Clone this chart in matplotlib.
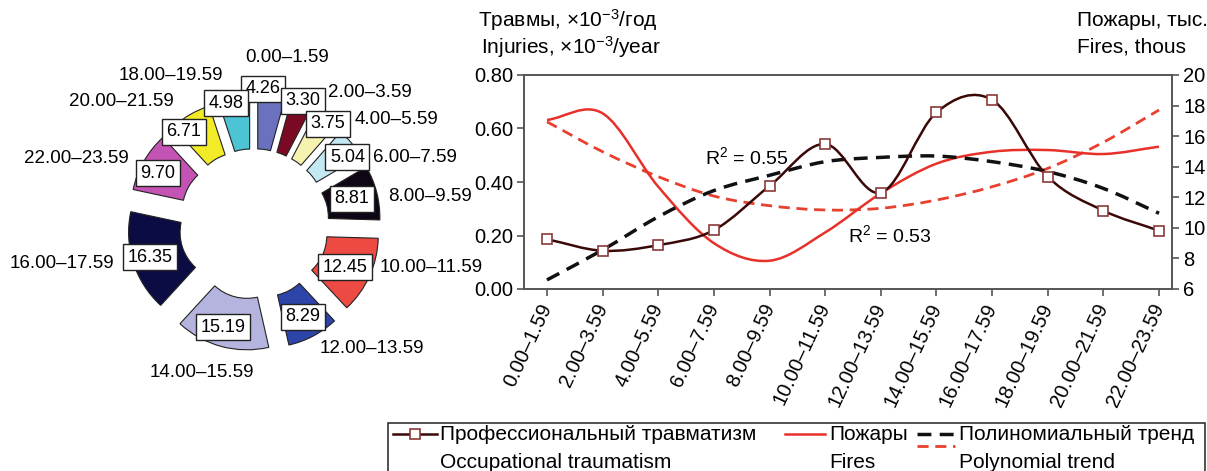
import numpy as np
import matplotlib
matplotlib.use("Agg")
import matplotlib.pyplot as plt
from matplotlib.path import Path
from matplotlib.patches import PathPatch, Rectangle
from matplotlib.lines import Line2D

plt.rcParams['font.family'] = ['Liberation Sans', 'DejaVu Sans']
plt.rcParams['mathtext.fontset'] = 'custom'
plt.rcParams['mathtext.rm'] = 'Liberation Sans'
plt.rcParams['mathtext.it'] = 'Liberation Sans:italic'

# two-hour periods of the day
periods = ['0.00–1.59', '2.00–3.59', '4.00–5.59', '6.00–7.59', '8.00–9.59',
           '10.00–11.59', '12.00–13.59', '14.00–15.59', '16.00–17.59',
           '18.00–19.59', '20.00–21.59', '22.00–23.59']

# share of fires per period, %
fire_share = [4.26, 3.30, 3.75, 5.04, 8.81, 12.45, 8.29, 15.19, 16.35, 4.98, 6.71, 9.70]
# order of the periods round the ring, clockwise from the top
ring_order = [0, 1, 2, 3, 4, 5, 6, 7, 8, 11, 10, 9]

# occupational injuries, x10^-3 per year
injuries = [0.186, 0.143, 0.164, 0.220, 0.385, 0.542, 0.360, 0.660, 0.707, 0.420, 0.293, 0.218]
injuries_trend = [0.034, 0.146, 0.270, 0.368, 0.425, 0.476, 0.492, 0.497, 0.476, 0.439, 0.376, 0.283]

# fires, thousands
fires = [17.06, 17.49, 12.69, 9.00, 7.85, 9.70, 12.26, 14.20, 14.98, 15.09, 14.83, 15.31]
fires_trend = [16.94, 14.98, 13.35, 12.08, 11.45, 11.17, 11.28, 11.82, 12.69, 13.89, 15.60, 17.71]

r2_injuries = 0.55
r2_fires = 0.53

ring_colors = ['#6a72bf', '#7a0a24', '#f6f2b0', '#c4e8f2', '#0e0614', '#ee4a44',
               '#2d44a8', '#b4b4de', '#0c0c44', '#c454b4', '#f2ec28', '#4cc4d4']

W, H = 1207, 471
fig = plt.figure(figsize=(W / 100, H / 100), dpi=100)
fig.patch.set_facecolor('white')


def fx(px):
    return px / W


def fy(py):
    return 1 - py / H


# ---- exploded doughnut ----
cx, cy, half = 254, 224, 180
ax_p = fig.add_axes([fx(cx - half), fy(cy + half), 2 * half / W, 2 * half / H])
vals = [fire_share[i] for i in ring_order]
wedges, _ = ax_p.pie(vals, startangle=90, counterclock=False, colors=ring_colors,
                     radius=1.0, explode=[0.28] * 12,
                     wedgeprops=dict(width=0.52, edgecolor='#222222', linewidth=0.8))
lim = half / 99
ax_p.set_xlim(-lim, lim)
ax_p.set_ylim(-lim, lim)
ax_p.set_aspect('equal')
ax_p.axis('off')

# value boxes: radius and angle nudge per wedge
box_r = [1.37, 1.34, 1.26, 1.16, 1.02, 1.02, 1.06, 1.09, 1.10, 1.10, 1.17, 1.25]
box_da = [4, 0, -2, -4, 0, -1, 0, -2, 0, 2, 7, 4]
# period names: (radius, angle) round the ring
name_pos = [(1.71, 78.8), (1.77, 48.7), (1.78, 36.2), (1.76, 22.6), (1.80, 9.0),
            (1.84, -13.7), (1.73, -46.4), (1.59, -109.2), (1.98, -168.5),
            (1.91, 159.8), (1.82, 137.3), (1.72, 119.1)]

for k, w in enumerate(wedges):
    i = ring_order[k]
    mid = np.deg2rad((w.theta1 + w.theta2) / 2 + box_da[k])
    ax_p.text(box_r[k] * np.cos(mid), box_r[k] * np.sin(mid), f'{fire_share[i]:.2f}',
              ha='center', va='center', fontsize=13, zorder=5,
              bbox=dict(boxstyle='square,pad=0.25', fc='white', ec='#222222', lw=1))
    r, a = name_pos[k]
    a = np.deg2rad(a)
    ax_p.text(r * np.cos(a), r * np.sin(a), periods[i], ha='center', va='center',
              fontsize=13.5)

# ---- time series ----
ax = fig.add_axes([fx(524), fy(289), (1172 - 524) / W, (289 - 75) / H])
ax2 = ax.twinx()
ax.set_zorder(ax2.get_zorder() + 1)
ax.patch.set_visible(False)

x = np.arange(len(periods))


def smooth_path(xs, ys):
    pts = np.column_stack([xs, ys]).astype(float)
    tang = np.empty_like(pts)
    tang[1:-1] = (pts[2:] - pts[:-2]) / 2
    tang[0] = pts[1] - pts[0]
    tang[-1] = pts[-1] - pts[-2]
    verts = [pts[0]]
    codes = [Path.MOVETO]
    for i in range(len(pts) - 1):
        verts += [pts[i] + tang[i] / 3, pts[i + 1] - tang[i + 1] / 3, pts[i + 1]]
        codes += [Path.CURVE4] * 3
    return Path(verts, codes)


dash = (0, (4, 2.4))
ax2.add_patch(PathPatch(smooth_path(x, fires_trend), fill=False, ec='#e8402e',
                        lw=2.0, linestyle=dash))
ax2.add_patch(PathPatch(smooth_path(x, fires), fill=False, ec='#e8302a', lw=1.8))
ax.add_patch(PathPatch(smooth_path(x, injuries_trend), fill=False, ec='#111111',
                       lw=2.5, linestyle=dash))
ax.add_patch(PathPatch(smooth_path(x, injuries), fill=False, ec='#3a0808', lw=1.8))
ax.plot(x, injuries, ls='none', marker='s', ms=7, mfc='white', mec='#8a3a3a', mew=1.2,
        zorder=4)

ax.set_xlim(-0.413, 11.233)
ax.set_ylim(0, 0.8)
ax2.set_ylim(6, 20)
ax.set_yticks(np.arange(0, 0.81, 0.2))
ax.set_yticklabels([f'{v:.2f}' for v in np.arange(0, 0.81, 0.2)])
ax2.set_yticks(np.arange(6, 21, 2))
ax.set_xticks(x)
ax.set_xticklabels(periods, rotation=65, ha='right', va='center', rotation_mode='anchor')

for a_ in (ax, ax2):
    for s in a_.spines.values():
        s.set_color('#555555')
        s.set_linewidth(1.2)
    a_.tick_params(labelsize=14.5, length=5, width=1.2, color='#555555', pad=3)
ax.tick_params(axis='x', pad=6)

ax.text(2.84, 0.493, f'R$^2$ = {r2_injuries:.2f}', fontsize=14, va='center', ha='left',
        zorder=6)
ax.text(5.41, 0.202, f'R$^2$ = {r2_fires:.2f}', fontsize=14, va='center', ha='left',
        zorder=6)

fig.text(fx(478), fy(20), 'Травмы, ×10$^{-3}$/год', fontsize=15, va='center')
fig.text(fx(481), fy(47), 'Injuries, ×10$^{-3}$/year', fontsize=15, va='center')
fig.text(fx(1077), fy(20), 'Пожары, тыс.', fontsize=15, va='center')
fig.text(fx(1077), fy(47), 'Fires, thous', fontsize=15, va='center')

# ---- legend ----
fig.add_artist(Rectangle((fx(388), fy(480)), fx(1205) - fx(388), fy(423) - fy(480),
                         transform=fig.transFigure, fill=False, ec='#333333', lw=1.2))
fig.add_artist(Line2D([fx(393), fx(437)], [fy(434)] * 2, color='#3a0808', lw=1.8))
fig.add_artist(Line2D([fx(415)], [fy(434)], ls='none', marker='s', ms=7, mfc='white',
                      mec='#8a3a3a', mew=1.2))
fig.add_artist(Line2D([fx(785), fx(825)], [fy(434)] * 2, color='#e8302a', lw=1.8))
fig.add_artist(Line2D([fx(917), fx(955)], [fy(434)] * 2, color='#111111', lw=2.5,
                      linestyle=(0, (4, 2.4))))
fig.add_artist(Line2D([fx(917), fx(955)], [fy(446)] * 2, color='#e8402e', lw=2.0,
                      linestyle=(0, (4, 2.4))))
legend_text = [(440, 'Профессиональный травматизм', 'Occupational traumatism'),
               (829, 'Пожары', 'Fires'),
               (959, 'Полиномиальный тренд', 'Polynomial trend')]
for px, ru, en in legend_text:
    fig.text(fx(px), fy(434), ru, fontsize=15, va='center')
    fig.text(fx(px), fy(463), en, fontsize=15, va='center')

fig.savefig('out.png', dpi=100)
